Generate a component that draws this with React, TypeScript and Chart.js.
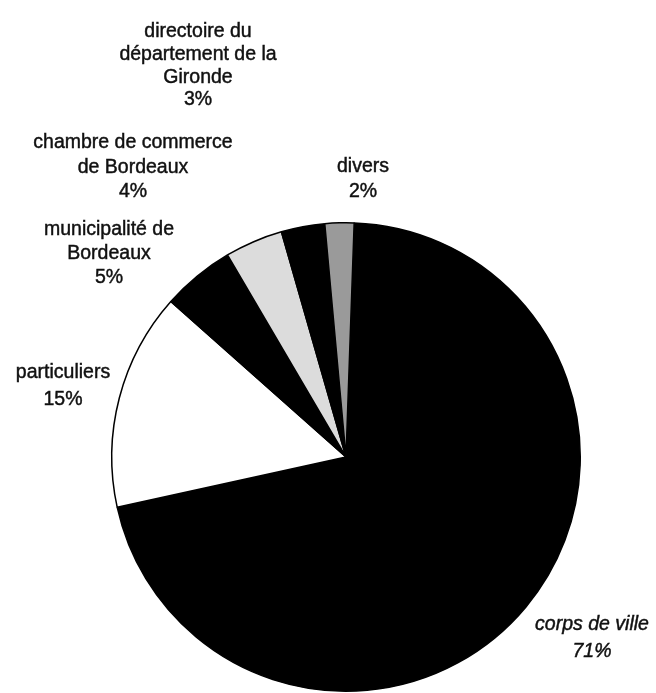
import React, { useEffect, useRef } from "react";
import { Chart, registerables } from "chart.js";

Chart.register(...registerables);

const categories = [
  "corps de ville",
  "particuliers",
  "municipalité de Bordeaux",
  "chambre de commerce de Bordeaux",
  "directoire du département de la Gironde",
  "divers",
];
const shares = [71, 15, 5, 4, 3, 2];
const sliceColors = ["#000000", "#ffffff", "#000000", "#dcdcdc", "#000000", "#9a9a9a"];

// label text lines (name lines + percent line)
const labelLines = [
  ["corps de ville", "71%"],
  ["particuliers", "15%"],
  ["municipalité de", "Bordeaux", "5%"],
  ["chambre de commerce", "de Bordeaux", "4%"],
  ["directoire du", "département de la", "Gironde", "3%"],
  ["divers", "2%"],
];
// label placement: centre x, first line y, line height, italic
const labelX = [592, 63, 109, 133, 198, 363];
const labelY = [625, 373, 230, 143, 32, 167];
const labelLineHeight = [27, 27, 24, 24.5, 22.7, 25];
const labelItalic = [true, false, false, false, false, false];

const labelPlugin = {
  id: "outerLabels",
  afterDraw(chart: any) {
    const ctx = chart.ctx;
    ctx.save();
    ctx.fillStyle = "#111";
    ctx.strokeStyle = "#111";
    ctx.lineWidth = 0.45;
    ctx.textAlign = "center";
    ctx.textBaseline = "middle";
    labelLines.forEach((lines, i) => {
      ctx.font = `${labelItalic[i] ? "italic " : ""}19.5px 'Liberation Sans', Arial, sans-serif`;
      lines.forEach((line, j) => {
        const y = labelY[i] + j * labelLineHeight[i];
        ctx.fillText(line, labelX[i], y);
        ctx.strokeText(line, labelX[i], y);
      });
    });
    ctx.restore();
  },
};

export default function App() {
  const ref = useRef<HTMLCanvasElement | null>(null);
  useEffect(() => {
    if (!ref.current) return;
    const chart = new Chart(ref.current, {
      type: "pie",
      data: {
        labels: categories,
        datasets: [
          {
            data: shares,
            backgroundColor: sliceColors,
            borderColor: "#000000",
            borderWidth: 1.5,
          },
        ],
      },
      options: {
        animation: false,
        responsive: true,
        maintainAspectRatio: false,
        rotation: 2,
        layout: { padding: { left: 111, right: 75, top: 222, bottom: 1 } },
        plugins: {
          legend: { display: false },
          tooltip: { enabled: false },
        },
      },
      plugins: [labelPlugin],
    });
    return () => chart.destroy();
  }, []);
  return (
    <div
      style={{
        position: "fixed",
        left: 0,
        top: 0,
        width: 656,
        height: 693,
        background: "#ffffff",
      }}
    >
      <canvas ref={ref} />
    </div>
  );
}
